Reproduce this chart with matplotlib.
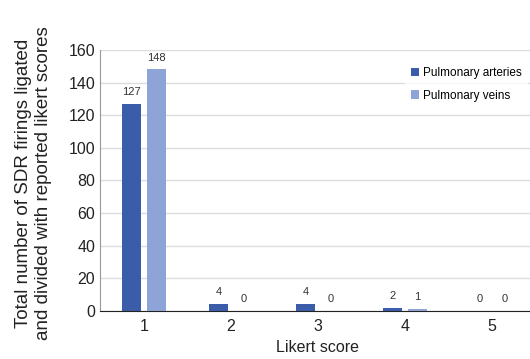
import numpy as np
import matplotlib.pyplot as plt

plt.rcParams["font.family"] = ["Liberation Sans", "DejaVu Sans"]

scores = ["1", "2", "3", "4", "5"]
arteries = [127, 4, 4, 2, 0]
veins = [148, 0, 0, 1, 0]

c_art = "#3b5ca8"
c_vein = "#8fa4d6"

fig = plt.figure(figsize=(5.30, 3.59), dpi=100)
ax = fig.add_axes([0.189, 0.134, 0.822, 0.727])

x = np.arange(len(scores)) + 0.5
w = 0.22
off = 0.144
b1 = ax.bar(x - off, arteries, w, color=c_art, label="Pulmonary arteries", zorder=3)
b2 = ax.bar(x + off, veins, w, color=c_vein, label="Pulmonary veins", zorder=3)

for bars, vals in ((b1, arteries), (b2, veins)):
    for r, v in zip(bars, vals):
        ax.annotate(str(v), (r.get_x() + r.get_width() / 2, v), xytext=(0, 5),
                    textcoords="offset points", ha="center", va="bottom",
                    fontsize=8, color="#333333")

ax.set_xlim(0, 5)
ax.set_ylim(0, 160)
ax.set_xticks(x)
ax.set_xticklabels(scores)
ax.set_yticks(np.arange(0, 161, 20))
ax.tick_params(length=0, labelsize=11.5, colors="#222222")
ax.tick_params(axis="x", pad=6)
ax.yaxis.grid(True, color="#dcdcdc", linewidth=1, zorder=0)
ax.set_axisbelow(True)
for s in ("top", "right"):
    ax.spines[s].set_visible(False)
ax.spines["left"].set_color("#999999")
ax.spines["bottom"].set_color("#222222")
ax.set_xlabel("Likert score", fontsize=11.5, labelpad=4, color="#222222")

fig.text(0.063, 0.49, "Total number of SDR firings ligated\nand divided with reported likert scores",
         rotation=90, ha="center", va="center", fontsize=13.5, color="#222222",
         linespacing=1.25)

leg = ax.legend(loc="upper left", bbox_to_anchor=(0.686, 0.98), frameon=True,
                fontsize=8.5, handlelength=0.7, handleheight=0.7, handletextpad=0.3,
                borderpad=0.5, labelspacing=0.9, fancybox=False)
leg.get_frame().set_edgecolor("white")
leg.get_frame().set_facecolor("white")

fig.savefig("out.png", dpi=100)
